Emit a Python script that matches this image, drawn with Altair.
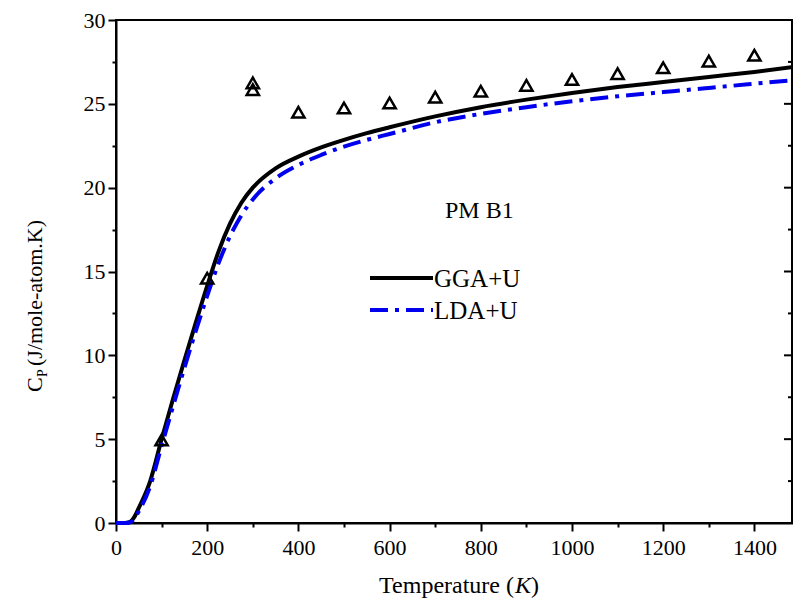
import altair as alt
import pandas as pd

# ---- data ----
T_calc = [0, 20, 30, 40, 50, 75, 100, 125, 150, 175, 200, 225, 250, 275, 300,
          350, 400, 450, 500, 550, 600, 700, 800, 900, 1000, 1100, 1200, 1300, 1400, 1500]
cp_gga = [0, 0, 0.05, 0.35, 0.9, 2.5, 5.0, 7.4, 9.7, 11.95, 14.15, 16.2, 17.85, 19.1, 20.0,
          21.15, 21.85, 22.4, 22.85, 23.25, 23.6, 24.25, 24.8, 25.25, 25.65, 26.0, 26.3, 26.6, 26.9, 27.25]
cp_lda = [0, 0, 0.03, 0.25, 0.7, 2.2, 4.6, 6.95, 9.25, 11.45, 13.55, 15.5, 17.1, 18.35, 19.3,
          20.55, 21.35, 21.95, 22.45, 22.85, 23.2, 23.9, 24.4, 24.8, 25.15, 25.45, 25.7, 25.95, 26.2, 26.45]
T_exp = [100, 200, 300, 300, 400, 500, 600, 700, 800, 900, 1000, 1100, 1200, 1300, 1400, 1500]
cp_exp = [4.95, 14.6, 26.25, 25.85, 24.5, 24.75, 25.05, 25.4, 25.75, 26.1, 26.45, 26.8, 27.15, 27.55, 27.9, 28.2]
x_ticks = list(range(0, 1501, 100))
y_ticks = [i * 2.5 for i in range(13)]
series_names = ["GGA+U", "LDA+U"]
annotation = "PM B1"

FONT = "Liberation Serif"
W, H = 684, 503
FRAME_X = 676  # visible right frame (canvas is clipped at the page width)

df_gga = pd.DataFrame({"T": T_calc, "Cp": cp_gga})
df_lda = pd.DataFrame({"T": T_calc, "Cp": cp_lda})
df_exp = pd.DataFrame({"T": T_exp, "Cp": cp_exp})

xscale = alt.Scale(domain=[0, 1500], nice=False, zero=False)
yscale = alt.Scale(domain=[0, 30], nice=False)

xaxis = alt.Axis(
    values=x_ticks,
    labelExpr="(datum.value % 200 === 0 && datum.value < 1500) ? datum.value : ''",
    tickSize={"condition": {"test": "datum.value % 200 === 0", "value": 8}, "value": 4},
    labelPadding=6, labelFlush=False, labelOverlap=False, title=None, grid=False,
)
yaxis = alt.Axis(
    values=y_ticks,
    labelExpr="datum.value % 5 === 0 ? datum.value : ''",
    tickSize={"condition": {"test": "datum.value % 5 === 0", "value": 8}, "value": 4},
    labelPadding=3, labelFlush=False, labelOverlap=False, title=None, grid=False,
)

gga = alt.Chart(df_gga).mark_line(color="black", strokeWidth=4, interpolate="monotone").encode(
    x=alt.X("T:Q", scale=xscale, axis=xaxis),
    y=alt.Y("Cp:Q", scale=yscale, axis=yaxis),
)
lda = alt.Chart(df_lda).mark_line(color="#0000ee", strokeWidth=4, strokeDash=[18, 7, 4, 7],
                                  interpolate="monotone").encode(
    x=alt.X("T:Q", scale=xscale),
    y=alt.Y("Cp:Q", scale=yscale),
)
exp = alt.Chart(df_exp).mark_point(shape="triangle-up", filled=False, color="black", opacity=1,
                                   strokeWidth=2.5, size=150).encode(
    x=alt.X("T:Q", scale=xscale),
    y=alt.Y("Cp:Q", scale=yscale),
)

# right frame line and its inward ticks
frame = alt.Chart(pd.DataFrame({"v": [0]})).mark_rule(color="black", strokeWidth=2).encode(
    x=alt.value(FRAME_X), y=alt.value(0), y2=alt.value(H))
rt_major = alt.Chart(pd.DataFrame({"v": [v for v in y_ticks if v % 5 == 0 and 0 < v < 30]})).mark_rule(
    color="black", strokeWidth=2).encode(y=alt.Y("v:Q", scale=yscale), x=alt.value(FRAME_X),
                                         x2=alt.value(FRAME_X - 8))
rt_minor = alt.Chart(pd.DataFrame({"v": [v for v in y_ticks if v % 5 != 0]})).mark_rule(
    color="black", strokeWidth=2).encode(y=alt.Y("v:Q", scale=yscale), x=alt.value(FRAME_X),
                                         x2=alt.value(FRAME_X - 4))

# legend (manual)
leg_df = pd.DataFrame({"name": series_names})
leg_line1 = alt.Chart(leg_df.iloc[[0]]).mark_rule(color="black", strokeWidth=4).encode(
    x=alt.value(254), x2=alt.value(317), y=alt.value(258))
leg_line2 = alt.Chart(leg_df.iloc[[1]]).mark_rule(color="#0000ee", strokeWidth=4, strokeDash=[18, 7, 4, 7]).encode(
    x=alt.value(254), x2=alt.value(317), y=alt.value(290))
leg_t1 = alt.Chart(leg_df.iloc[[0]]).mark_text(font=FONT, fontSize=25, align="left", baseline="middle",
                                                color="black").encode(
    text="name:N", x=alt.value(318), y=alt.value(259))
leg_t2 = alt.Chart(leg_df.iloc[[1]]).mark_text(font=FONT, fontSize=25, align="left", baseline="middle",
                                                color="black").encode(
    text="name:N", x=alt.value(318), y=alt.value(291))
pm = alt.Chart(pd.DataFrame({"t": [annotation]})).mark_text(font=FONT, fontSize=24, align="left",
                                                             baseline="middle", color="black").encode(
    text="t:N", x=alt.value(329), y=alt.value(191))

def txt(s, x, y, **kw):
    return alt.Chart(pd.DataFrame({"t": [s]})).mark_text(font=FONT, color="black", **kw).encode(
        text="t:N", x=alt.value(x), y=alt.value(y))

# x title: Temperature (K) with italic K
xt1 = txt("Temperature (", 398, 566, fontSize=24, align="right", baseline="middle")
xt2 = txt("K", 399, 566, fontSize=24, align="left", baseline="middle", fontStyle="italic")
xt3 = txt(")", 415, 566, fontSize=24, align="left", baseline="middle")

# y title: C_P (J/mole-atom.K)
yt1 = txt("C", -74, 372, fontSize=22, align="left", baseline="alphabetic", angle=270)
yt2 = txt("P", -69, 357, fontSize=14, align="left", baseline="alphabetic", angle=270)
yt3 = txt("(J/mole-atom.K)", -74, 346, fontSize=22, align="left", baseline="alphabetic", angle=270)

chart = alt.layer(
    gga, lda, exp, frame, rt_major, rt_minor, leg_line1, leg_line2, leg_t1, leg_t2, pm,
    xt1, xt2, xt3, yt1, yt2, yt3,
).properties(
    width=W, height=H,
    autosize=alt.AutoSizeParams(type="none"),
    padding={"left": 108, "top": 12, "right": -7, "bottom": 78},
).configure_view(
    stroke="black", strokeWidth=2,
).configure_axis(
    domainColor="black", domainWidth=2, tickColor="black", tickWidth=2,
    labelFont=FONT, labelFontSize=22, labelColor="black",
)

chart.save("out.html", embed_options={"renderer": "svg", "actions": False})
